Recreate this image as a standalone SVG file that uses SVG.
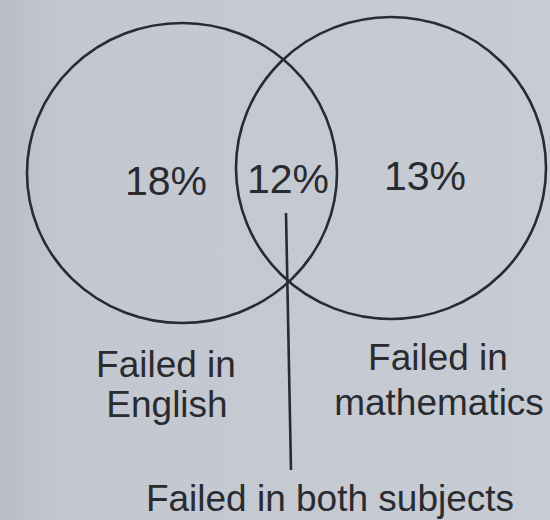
<svg xmlns="http://www.w3.org/2000/svg" width="550" height="520" viewBox="0 0 550 520">
<style>
.c{fill:none;stroke:#2a2b30;stroke-width:2.6}
.t{font-family:"Liberation Sans",Arial,sans-serif;fill:#2a2b30;text-anchor:middle}
.p{font-size:41px}
.l{font-size:37px}
</style>
<defs>
<linearGradient id="bg" x1="0" y1="0" x2="1" y2="0">
<stop offset="0" stop-color="#b9bdc5"/>
<stop offset="0.12" stop-color="#c3c7cf"/>
<stop offset="1" stop-color="#c7cbd3"/>
</linearGradient>
</defs>
<rect width="550" height="520" fill="url(#bg)"/>
<g id="english">
<ellipse class="c" cx="182" cy="173" rx="155" ry="150"/>
<text class="t p" x="166" y="195">18%</text>
<text class="t l" x="166" y="377">Failed in</text>
<text class="t l" x="167" y="417">English</text>
</g>
<g id="mathematics">
<ellipse class="c" cx="391" cy="168" rx="155" ry="151"/>
<text class="t p" x="425" y="190">13%</text>
<text class="t l" x="438" y="370">Failed in</text>
<text class="t l" x="439" y="415">mathematics</text>
</g>
<g id="both">
<text class="t p" x="288" y="193">12%</text>
<text class="t l" x="330" y="511">Failed in both subjects</text>
</g>
<g id="connectors">
<line class="c" x1="286" y1="213" x2="291" y2="470"/>
</g>
</svg>
